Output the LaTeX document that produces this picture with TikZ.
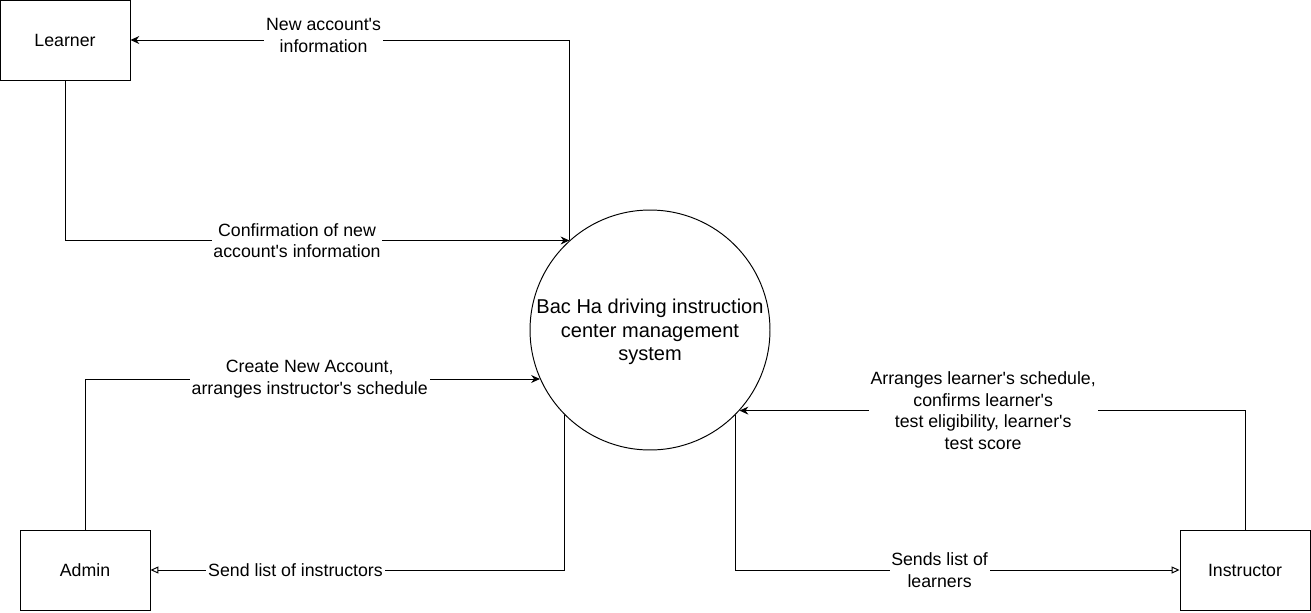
\documentclass[tikz,border=0pt]{standalone}
\usepackage{fontspec}
\setmainfont{Liberation Sans}
\usetikzlibrary{arrows.meta}
\newcommand{\ap}{\textquotesingle}

\begin{document}
\begin{tikzpicture}
  [x=0.02cm,y=-0.02cm,line width=0.55pt,
   every node/.style={font=\fontsize{10.1}{12.2}\selectfont},
   entity/.style={draw,minimum width=2.6cm,minimum height=1.6cm,inner sep=0pt},
   procc/.style={draw,circle,minimum size=4.8cm,inner sep=0pt},
   lbl/.style={fill=white,align=center,inner sep=1pt},
   flow/.style={-{Stealth[length=5pt,width=4.5pt]}},
   back/.style={-{Triangle[open,length=4.5pt,width=4pt]}}]
  \useasboundingbox (0,0) rectangle (1311,612);

  \node[entity] (learner) at (65,40) {Learner};
  \node[entity] (admin) at (85,570) {Admin};
  \node[entity] (instructor) at (1245,570) {Instructor};
  \node[procc] (sys) at (650,330) {};
  \node[align=center,font=\fontsize{11.4}{13.3}\selectfont,yshift=-1.2pt] (systext) at (sys)
    {Bac Ha driving instruction\\center management\\system};

  \draw[flow] (sys.132) |- node[lbl,pos=.78,yshift=2.5pt] {New account\ap s\\information} (learner);
  \draw[flow] (learner) |- node[lbl,pos=.73] {Confirmation of new\\account\ap s information} (sys.132);
  \draw[flow] (admin) |- node[lbl,pos=.747] {Create New Account,\\arranges instructor\ap s schedule} (sys.204);
  \draw[back] (sys.225) |- node[lbl,pos=.825] {Send list of instructors} (admin);
  \draw[flow] (instructor) |- node[lbl,pos=.759] {Arranges learner\ap s schedule,\\confirms learner\ap s\\test eligibility, learner\ap s\\test score} (sys.318);
  \draw[back] (sys.315) |- node[lbl,pos=.73] {Sends list of\\learners} (instructor);

\end{tikzpicture}
\end{document}
